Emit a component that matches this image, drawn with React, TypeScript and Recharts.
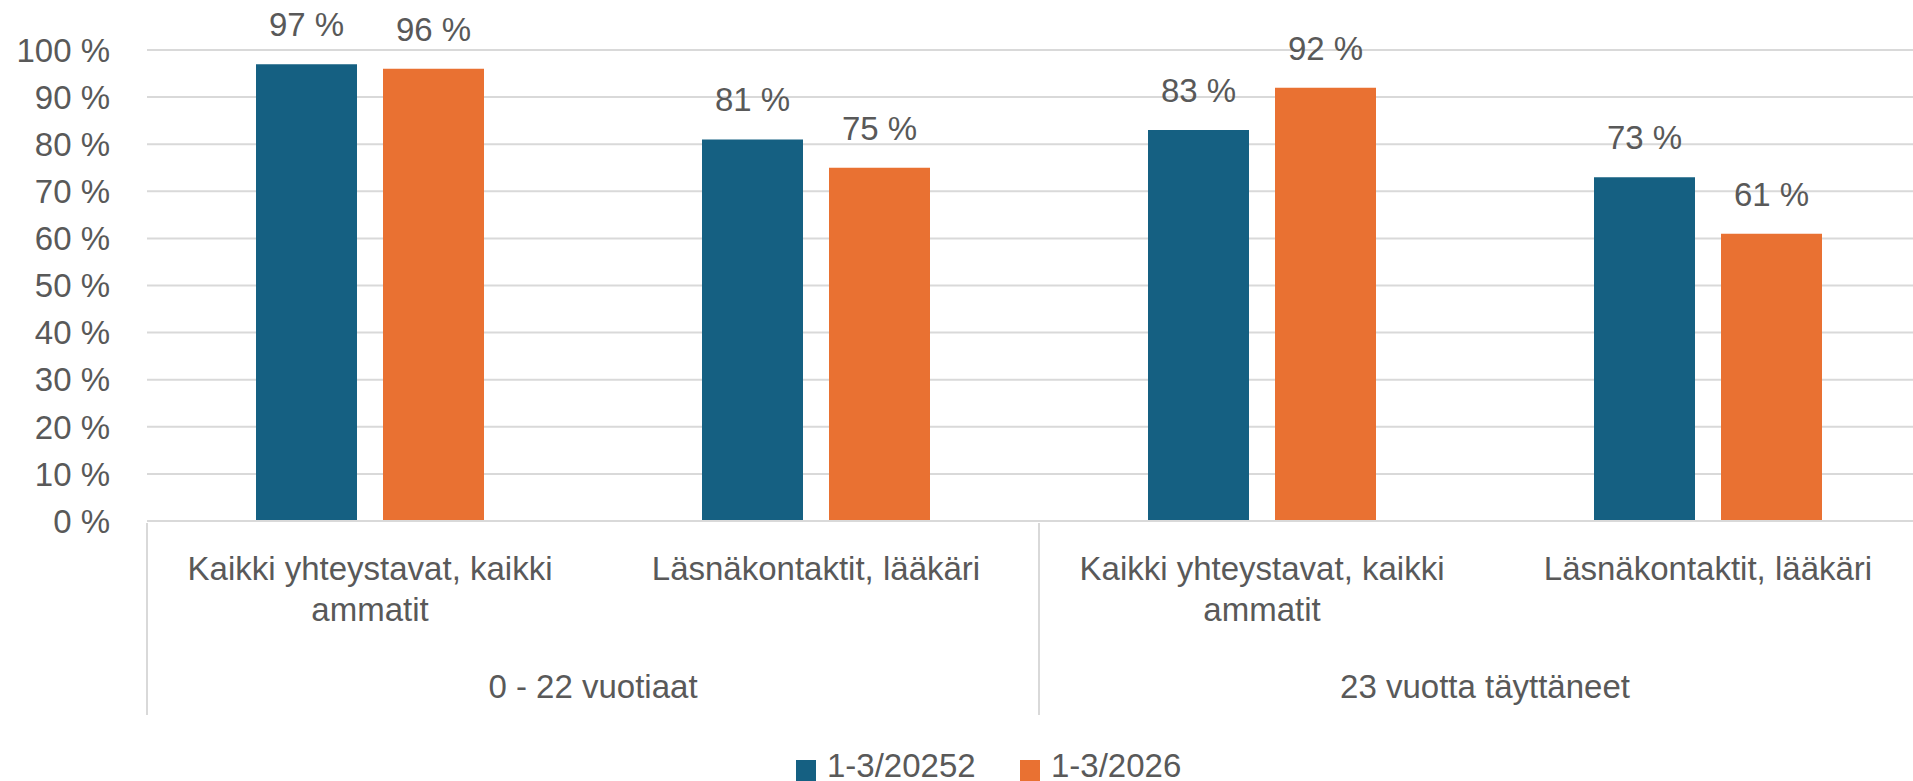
import React from 'react';
import { BarChart, Bar, XAxis, YAxis, CartesianGrid, Legend, LabelList } from 'recharts';

const categories = [
  'Kaikki yhteystavat, kaikki ammatit',
  'Läsnäkontaktit, lääkäri',
  'Kaikki yhteystavat, kaikki ammatit',
  'Läsnäkontaktit, lääkäri',
];
const ageGroups = ['0 - 22 vuotiaat', '0 - 22 vuotiaat', '23 vuotta täyttäneet', '23 vuotta täyttäneet'];
const values2025 = [97, 81, 83, 73];
const values2026 = [96, 75, 92, 61];
const yTicks = [0, 10, 20, 30, 40, 50, 60, 70, 80, 90, 100];

const data = categories.map((name, i) => ({
  name,
  group: ageGroups[i],
  a: values2025[i],
  b: values2026[i],
}));

const FONT = '"Liberation Sans", Arial, sans-serif';
const TEXT = '#595959';
const GRID = '#d9d9d9';

// greedy wrap by character count, good enough for these labels
const wrap = (s: string, max = 26) => {
  const lines: string[] = [];
  let cur = '';
  s.split(' ').forEach((w) => {
    const next = cur ? cur + ' ' + w : w;
    if (next.length > max && cur) {
      lines.push(cur);
      cur = w;
    } else {
      cur = next;
    }
  });
  if (cur) lines.push(cur);
  return lines;
};

const CategoryTick = ({ x, y, payload }: any) => (
  <text textAnchor="middle" fill={TEXT} fontFamily={FONT} fontSize={33}>
    {wrap(String(payload.value)).map((line, i) => (
      <tspan key={i} x={x} y={y + 57 + i * 41}>
        {line}
      </tspan>
    ))}
  </text>
);

const GroupTick = ({ x, y, payload }: any) => {
  const half = payload.offset || 446;
  return (
    <g>
      <line x1={x - half} x2={x - half} y1={y - 130} y2={y + 62} stroke={GRID} strokeWidth={2} />
      <line x1={x + half} x2={x + half} y1={y - 130} y2={y + 62} stroke={GRID} strokeWidth={2} />
      <text x={x} y={y + 45} textAnchor="middle" fill={TEXT} fontFamily={FONT} fontSize={33}>
        {payload.value}
      </text>
    </g>
  );
};

const legendX = [796, 1020];

const renderLegend = (props: any) => {
  const { payload } = props;
  return (
    <svg width={1913} height={36} style={{ position: 'absolute', left: 0, top: 0 }}>
      {(payload || []).map((p: any, i: number) => (
        <g key={p.value}>
          <rect x={legendX[i]} y={15} width={20} height={22} fill={p.color} />
          <text x={legendX[i] + 31} y={32} fill={TEXT} fontFamily={FONT} fontSize={33}>
            {p.value}
          </text>
        </g>
      ))}
    </svg>
  );
};

export default function App() {
  return (
    <div style={{ position: 'absolute', left: 0, top: 0, width: 1913, height: 781, background: '#fff' }}>
      <BarChart
        width={1913}
        height={781}
        data={data}
        margin={{ top: 50, right: -18, bottom: 0, left: 0 }}
        barSize={101}
        barGap={26}
      >
        <CartesianGrid xAxisId="cat" vertical={false} stroke={GRID} strokeWidth={2} />
        <XAxis
          xAxisId="cat"
          dataKey="name"
          height={130}
          interval={0}
          tickSize={0}
          tickLine={false}
          axisLine={{ stroke: GRID, strokeWidth: 2 }}
          tick={<CategoryTick />}
        />
        <XAxis
          xAxisId="grp"
          dataKey="group"
          allowDuplicatedCategory={false}
          height={130}
          interval={0}
          tickSize={0}
          tickLine={false}
          axisLine={false}
          tick={<GroupTick />}
        />
        <YAxis
          width={147}
          domain={[0, 100]}
          ticks={yTicks}
          interval={0}
          tickSize={0}
          tickMargin={37}
          tickLine={false}
          axisLine={false}
          tickFormatter={(v) => `${v} %`}
          tick={{ fill: TEXT, fontSize: 33, fontFamily: FONT }}
        />
        <Legend
          content={renderLegend}
          wrapperStyle={{ left: 0, top: 745, width: 0, height: 0, bottom: 'auto' }}
        />
        <Bar xAxisId="cat" dataKey="a" name="1-3/20252" fill="#156082" isAnimationActive={false}>
          <LabelList
            dataKey="a"
            position="top"
            offset={28}
            fill={TEXT}
            fontSize={33}
            fontFamily={FONT}
            formatter={(v: any) => `${v} %`}
          />
        </Bar>
        <Bar xAxisId="cat" dataKey="b" name="1-3/2026" fill="#E97132" isAnimationActive={false}>
          <LabelList
            dataKey="b"
            position="top"
            offset={28}
            fill={TEXT}
            fontSize={33}
            fontFamily={FONT}
            formatter={(v: any) => `${v} %`}
          />
        </Bar>
      </BarChart>
    </div>
  );
}
